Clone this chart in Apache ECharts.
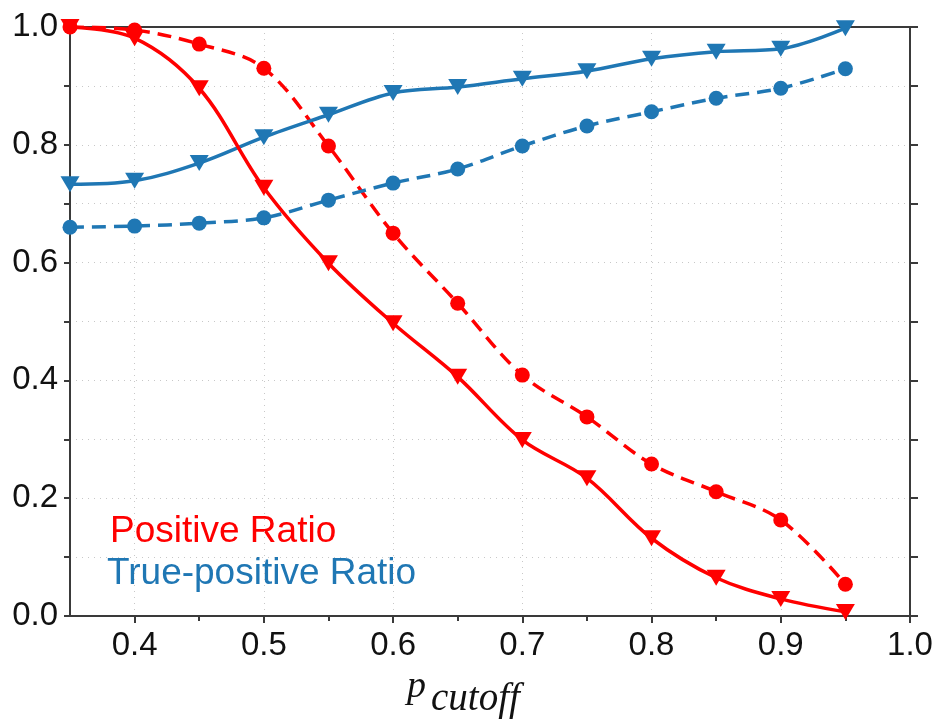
<!DOCTYPE html>
<html>
<head>
<meta charset="utf-8">
<style>html,body{margin:0;padding:0;background:#fff;}#c{width:937px;height:721px;}</style>
<script src="https://cdn.jsdelivr.net/npm/echarts@6/dist/echarts.min.js"></script>
</head>
<body>
<div id="c"></div>
<script>
// Data
const pCutoff = [0.35, 0.40, 0.45, 0.50, 0.55, 0.60, 0.65, 0.70, 0.75, 0.80, 0.85, 0.90, 0.95];
const positiveRatioSolid = [1.000, 0.981, 0.896, 0.727, 0.599, 0.497, 0.406, 0.299, 0.234, 0.132, 0.065, 0.029, 0.007];
const positiveRatioDashed = [1.000, 0.995, 0.971, 0.930, 0.798, 0.650, 0.531, 0.409, 0.338, 0.258, 0.211, 0.163, 0.054];
const truePosRatioSolid = [0.733, 0.739, 0.769, 0.813, 0.851, 0.888, 0.898, 0.912, 0.925, 0.946, 0.958, 0.963, 0.998];
const truePosRatioDashed = [0.660, 0.662, 0.667, 0.676, 0.706, 0.735, 0.759, 0.798, 0.832, 0.856, 0.879, 0.896, 0.929];
const xMajorTicks = [0.4, 0.5, 0.6, 0.7, 0.8, 0.9, 1.0];
const xMinorTicks = [0.45, 0.55, 0.65, 0.75, 0.85, 0.95];
const yLabelTicks = [0.0, 0.2, 0.4, 0.6, 0.8, 1.0];
const legendLabels = ['Positive Ratio', 'True-positive Ratio'];

const RED = '#ff0000', BLUE = '#1f77b4';
const AX = '#3a3a3a';
const FONT = '"Liberation Sans", Arial, sans-serif';
const SERIF = '"Liberation Serif", "Times New Roman", serif';

function pairs(ys){ return pCutoff.map((x,i)=>[x, ys[i]]); }

const chart = echarts.init(document.getElementById('c'), null, {renderer:'canvas'});
const grid = {left:70, right:27, top:27, bottom:105};

function mk(name, ys, color, dashed, sym){
  return {
    name, type:'line', data: pairs(ys), smooth: 0.35,
    xAxisIndex:0, yAxisIndex:0,
    symbol: sym, symbolSize: sym==='triangle' ? [19,16] : 15,
    symbolRotate: sym==='triangle' ? 180 : 0,
    showSymbol:true,
    lineStyle:{color, width:3.5, type: dashed ? [14,8] : 'solid'},
    itemStyle:{color},
    emphasis:{disabled:true},
    animation:false
  };
}

chart.setOption({
  backgroundColor:'#fff',
  animation:false,
  grid,
  xAxis:[
    {type:'value', min:0.35, max:1.0, interval:0.05, position:'bottom',
     axisLine:{show:true, onZero:false, lineStyle:{color:AX, width:2}},
     axisTick:{show:true, customValues: xMajorTicks, length:7, inside:false, lineStyle:{color:AX, width:2}},
     axisLabel:{show:true, customValues: xMajorTicks, formatter:v=>v.toFixed(1), color:'#111', fontSize:33, fontFamily:FONT, margin:13},
     splitLine:{show:true, lineStyle:{color:'#c8c8c8', type:[1,5], width:1}}},
    {type:'value', min:0.35, max:1.0, interval:0.05, position:'bottom',
     axisLine:{show:false, onZero:false},
     axisTick:{show:true, customValues: xMinorTicks, length:5, lineStyle:{color:AX, width:2}},
     axisLabel:{show:false}, splitLine:{show:false}},
    {type:'value', min:0.35, max:1.0, interval:0.05, position:'top',
     axisLine:{show:true, onZero:false, lineStyle:{color:AX, width:2}},
     axisTick:{show:false}, axisLabel:{show:false}, splitLine:{show:false}}
  ],
  yAxis:[
    {type:'value', min:0, max:1, interval:0.1, position:'left',
     axisLine:{show:true, onZero:false, lineStyle:{color:AX, width:2}},
     axisTick:{show:true, length:6, lineStyle:{color:AX, width:2}},
     axisLabel:{show:true, customValues: yLabelTicks, formatter:v=>v.toFixed(1), color:'#111', fontSize:33, fontFamily:FONT, margin:12},
     splitLine:{show:true, lineStyle:{color:'#c8c8c8', type:[1,5], width:1}}},
    {type:'value', min:0, max:1, interval:0.1, position:'right',
     axisLine:{show:true, onZero:false, lineStyle:{color:AX, width:2}},
     axisTick:{show:true, length:8, lineStyle:{color:AX, width:2}},
     axisLabel:{show:false}, splitLine:{show:false}}
  ],
  series:[
    mk('Positive Ratio (dashed)', positiveRatioDashed, RED, true, 'circle'),
    mk('True-positive Ratio (dashed)', truePosRatioDashed, BLUE, true, 'circle'),
    mk('True-positive Ratio', truePosRatioSolid, BLUE, false, 'triangle'),
    mk('Positive Ratio', positiveRatioSolid, RED, false, 'triangle')
  ],
  graphic:[
    {type:'text', left:110, top:513, style:{text:legendLabels[0], fill:RED, font:'37px '+FONT}},
    {type:'text', left:107, top:555, style:{text:legendLabels[1], fill:BLUE, font:'37px '+FONT}},
    {type:'text', left:407, top:668, style:{text:'p', fill:'#111', font:'italic 38px '+SERIF}},
    {type:'text', left:431, top:680, style:{text:'cutoff', fill:'#111', font:'italic 39px '+SERIF}}
  ]
});
</script>
</body>
</html>
